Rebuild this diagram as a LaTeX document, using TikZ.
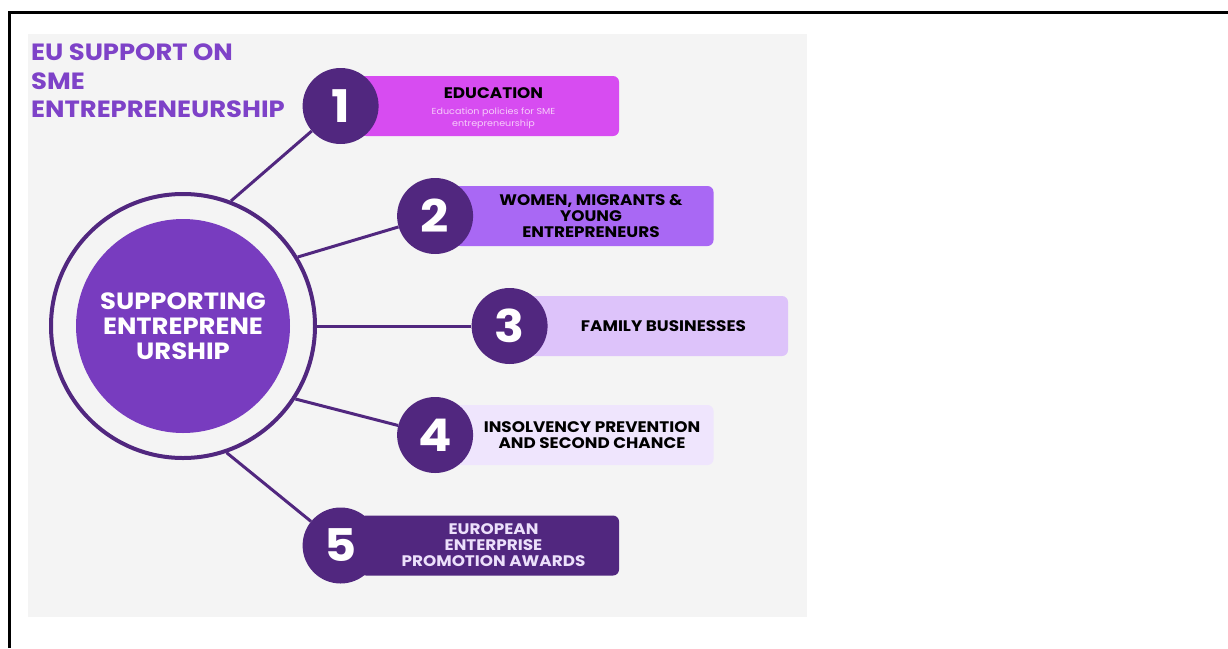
\documentclass[tikz,border=0pt]{standalone}
\usepackage{fontspec}
\setmainfont{Poppins}[FakeStretch=1.1]
\usetikzlibrary{positioning,backgrounds}
\definecolor{panelgray}{HTML}{F4F4F4}
\definecolor{deeppurple}{HTML}{51277F}
\definecolor{hubpurple}{HTML}{783CBF}
\definecolor{titlepurple}{HTML}{7E42C8}
\definecolor{magentabox}{HTML}{D74CF1}
\definecolor{violetbox}{HTML}{A968F4}
\definecolor{lilacbox}{HTML}{DDC3FA}
\definecolor{palebox}{HTML}{EFE5FD}
\definecolor{pinktext}{HTML}{F6CDFA}
\definecolor{lavtext}{HTML}{ECE0FB}

\begin{document}
\begin{tikzpicture}[x=1pt, y=-1pt, node distance=2mm and 5mm,
	numdisk/.style={circle, fill=deeppurple, minimum size=76pt, inner sep=0pt, text=white, font=\fontsize{45}{45}\selectfont\bfseries},
	itembox/.style={rectangle, rounded corners=6pt, minimum width=259pt, minimum height=60pt, inner sep=0pt},
	itemtext/.style={align=center, inner sep=0pt, text=black, font=\fontsize{15.3}{16}\selectfont\bfseries},
	spoke/.style={line width=3pt, -, color=deeppurple}
	]
	\useasboundingbox (0,0) rectangle (1228,648);
	\draw[line width=3pt] (9.5,648) |- (1228,12.5);
	
	\begin{pgfonlayer}{background}
	\fill[panelgray] (28,34) rectangle (807,617);
	\end{pgfonlayer}
	
	\node[anchor=north west, align=left, inner sep=0pt, text=titlepurple, font=\fontsize{23.5}{28.5}\selectfont\bfseries](title) at (31,44) {EU SUPPORT ON\\SME\\ENTREPRENEURSHIP};
	
	\node[circle, draw=deeppurple, line width=4pt, minimum size=264pt, inner sep=0pt](ring) at (183,326) {};
	\node[circle, fill=hubpurple, minimum size=214pt, inner sep=0pt, align=center, text=white, font=\fontsize{23.5}{25}\selectfont\bfseries](hub) at (183,326) {SUPPORTING\\ENTREPRENE\\URSHIP};
	
	\node[itembox, fill=magentabox](b1) at (489.5,106) {};
	\node[itembox, fill=violetbox](b2) at (584,216) {};
	\node[itembox, fill=lilacbox](b3) at (658.5,326) {};
	\node[itembox, fill=palebox](b4) at (584,435) {};
	\node[itembox, fill=deeppurple](b5) at (489.5,545.5) {};
	
	\node[numdisk](n1) [left = -19pt of b1] {1};
	\node[numdisk](n2) [left = -19pt of b2] {2};
	\node[numdisk](n3) [left = -19pt of b3] {3};
	\node[numdisk](n4) [left = -19pt of b4] {4};
	\node[numdisk](n5) [left = -19pt of b5] {5};
	
	\node[itemtext](t1) at ([xshift=4pt, yshift=13pt]b1.center) {EDUCATION};
	\node[align=center, inner sep=0pt, text=pinktext, font=\fontsize{8.7}{12}\selectfont](s1) at ([xshift=4pt, yshift=-12pt]b1.center) {Education policies for SME\\entrepreneurship};
	\node[itemtext](t2) at ([xshift=7pt]b2.center) {WOMEN, MIGRANTS \&\\YOUNG\\ENTREPRENEURS};
	\node[itemtext](t3) at ([xshift=5pt]b3.center) {FAMILY BUSINESSES};
	\node[itemtext](t4) at ([xshift=8pt]b4.center) {INSOLVENCY PREVENTION\\AND SECOND CHANCE};
	\node[itemtext, text=lavtext](t5) at ([xshift=4pt]b5.center) {EUROPEAN\\ENTERPRISE\\PROMOTION AWARDS};
	
	\begin{pgfonlayer}{background}
	\draw [spoke] (ring.69) to (n1);
	\draw [spoke] (ring.31) to (n2);
	\draw [spoke] (ring.0) to (n3);
	\draw [spoke] (ring.-33) to (n4);
	\draw [spoke] (ring.-71) to (n5);
	\end{pgfonlayer}
	
\end{tikzpicture}
\end{document}
